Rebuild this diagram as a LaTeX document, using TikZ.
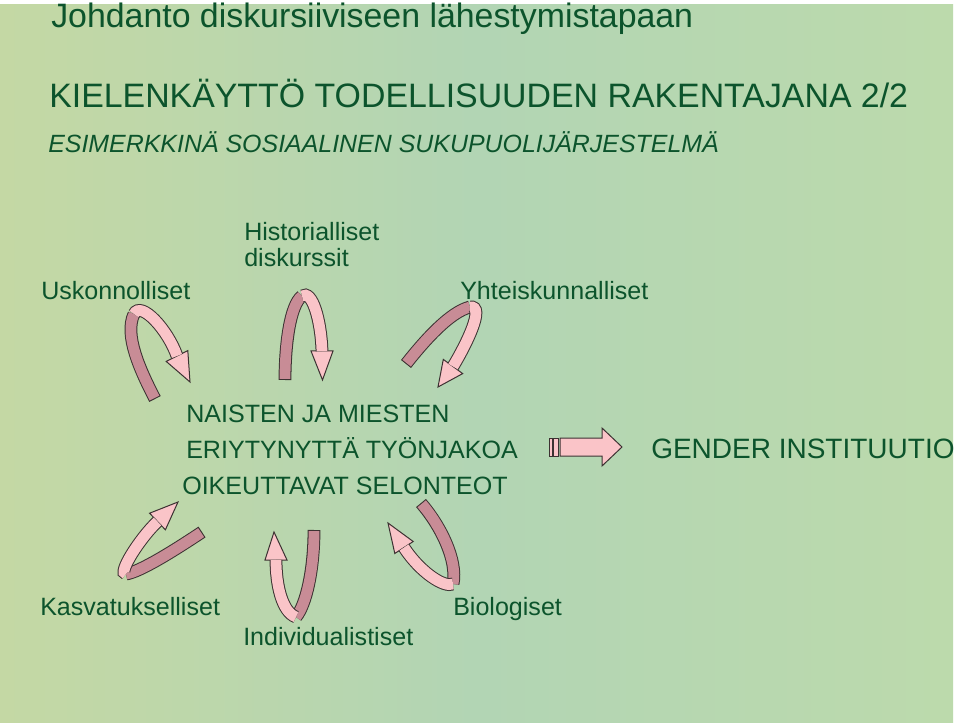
\documentclass[tikz,border=0pt]{standalone}
\usepackage{fontspec}
\setmainfont{Liberation Sans}
\definecolor{tgreen}{RGB}{12,84,44}
\definecolor{bgl}{RGB}{196,216,164}
\definecolor{bgm}{RGB}{178,213,180}
\definecolor{bgr}{RGB}{188,218,172}
\definecolor{lpink}{RGB}{250,196,200}
\definecolor{dpink}{RGB}{200,140,150}
\definecolor{outl}{RGB}{60,50,50}
\begin{document}
\begin{tikzpicture}[x=0.75pt,y=-0.75pt,
  txt/.style={anchor=base west, inner sep=0pt, text=tgreen, font=\fontsize{18.8}{22}\selectfont},
  ttl/.style={anchor=base west, inner sep=0pt, text=tgreen, font=\fontsize{25.4}{30}\selectfont},
  dband/.style={preaction={draw=outl, line width=9.6pt, shorten <=0pt}, draw=dpink, line width=8.1pt, shorten <=0.8pt},
  lband/.style={preaction={draw=outl, line width=9.6pt}, draw=lpink, line width=8.1pt},
  ahead/.style={draw=outl, line width=0.75pt, fill=lpink, line join=miter},
  blk/.style={draw=outl, line width=0.75pt, fill=lpink}]
\useasboundingbox (0,0) rectangle (960,723);
\fill[white] (0,0) rectangle (960,723);
\shade[left color=bgl, right color=bgr, middle color=bgm] (0,5) rectangle (953,723);

% titles
\node[ttl] (t1) at (51,28) {Johdanto diskursiiviseen lähestymistapaan};
\node[ttl] (t2) at (49,108) {KIELENKÄYTTÖ TODELLISUUDEN RAKENTAJANA 2/2};
\node[txt, font=\fontsize{18.7}{22}\selectfont\itshape] (t3) at (48,153) {ESIMERKKINÄ SOSIAALINEN SUKUPUOLIJÄRJESTELMÄ};

% discourse labels
\node[txt] (hist1) at (244,241) {Historialliset};
\node[txt] (hist2) at (244,267) {diskurssit};
\node[txt] (usk) at (41,300) {Uskonnolliset};
\node[txt] (yht) at (460,300) {Yhteiskunnalliset};
\node[txt] (kas) at (40,615) {Kasvatukselliset};
\node[txt] (bio) at (453,615) {Biologiset};
\node[txt] (ind) at (243,645) {Individualistiset};

% centre text
\node[txt] (c1) at (186,422) {NAISTEN JA MIESTEN};
\node[txt] (c2) at (186,458) {ERIYTYNYTTÄ TYÖNJAKOA};
\node[txt] (c3) at (182,494) {OIKEUTTAVAT SELONTEOT};
\node[txt, font=\fontsize{21}{25}\selectfont] (gen) at (651,458) {GENDER INSTITUUTIO};

% ribbon arrow 1 (Uskonnolliset)
\draw[dband] (155,399) .. controls (140,370) and (124,335) .. (134,314);
\draw[ahead] (177,356) -- (187.8,350.6) -- (190,382) -- (166.2,361.4) -- cycle;
\draw[lband] (134,314) .. controls (141,300) and (168,330) .. (177,356);

% ribbon arrow 2 (Historialliset)
\draw[dband] (285,380) .. controls (285,345) and (290,305) .. (302,296);
\draw[ahead] (322,351) -- (333,351) -- (322.5,380) -- (311,351) -- cycle;
\draw[lband] (302,296) .. controls (312,289) and (321,320) .. (322,351);

% ribbon arrow 3 (Yhteiskunnalliset)
\draw[dband] (406,364) .. controls (425,340) and (450,312) .. (470,307);
\draw[ahead] (453,366.5) -- (462.7,373.6) -- (438,387) -- (443.3,359.4) -- cycle;
\draw[lband] (470,307) .. controls (486,305) and (466,345) .. (453,366.5);

% ribbon arrow 4 (Kasvatukselliset)
\draw[dband] (202,532) .. controls (175,550) and (140,572) .. (126,574);
\draw[ahead] (157.5,521.5) -- (165.4,529.8) -- (178,502) -- (149.6,513.2) -- cycle;
\draw[lband] (126,574) .. controls (117,574) and (140,538) .. (157.5,521.5);

% ribbon arrow 5 (Individualistiset)
\draw[dband] (314,530) .. controls (314,570) and (306,605) .. (296,617);
\draw[ahead] (276,560) -- (287,560) -- (274,532) -- (265,560) -- cycle;
\draw[lband] (296,617) .. controls (282,612) and (276,585) .. (276,560);

% ribbon arrow 6 (Biologiset)
\draw[dband] (421,503) .. controls (440,525) and (458,560) .. (453,584);
\draw[ahead] (404,547.5) -- (394.8,553.5) -- (388,523) -- (413.2,541.5) -- cycle;
\draw[lband] (453,584) .. controls (444,588) and (420,572) .. (404,547.5);

% block arrow
\draw[blk] (549,438) rectangle (552.3,456);
\draw[blk] (553.5,438) rectangle (558.3,456);
\draw[blk] (560,438) -- (602,438) -- (602,428) -- (622,447) -- (602,466) -- (602,456) -- (560,456) -- cycle;
\end{tikzpicture}
\end{document}
